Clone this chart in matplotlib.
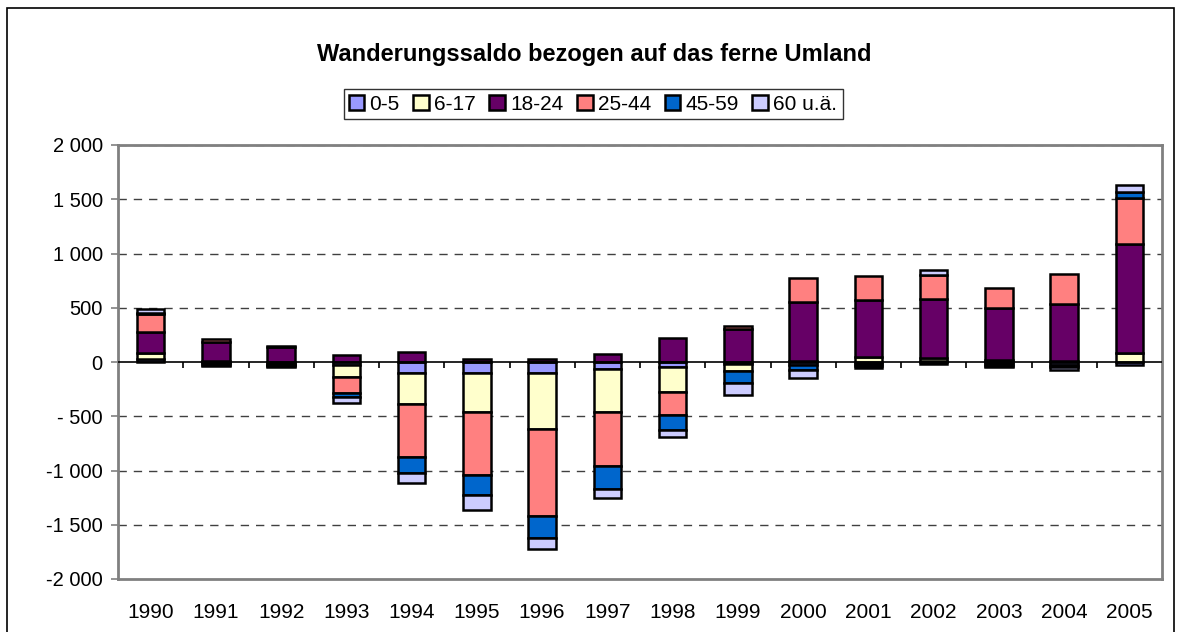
import numpy as np
import matplotlib
matplotlib.use("Agg")
from matplotlib import pyplot as plt
from matplotlib.patches import Rectangle

plt.rcParams['font.family'] = ['Liberation Sans', 'DejaVu Sans']

# data
years = ['1990', '1991', '1992', '1993', '1994', '1995', '1996', '1997',
         '1998', '1999', '2000', '2001', '2002', '2003', '2004', '2005']
groups = ['0-5', '6-17', '18-24', '25-44', '45-59', '60 u.ä.']
colors = ['#9999FF', '#FFFFCC', '#660066', '#FF8080', '#0066CC', '#CCCCFF']

age_0_5 = [25, -10, -15, -25, -105, -105, -105, -60, -45, -15, -30, -15, 10, -15, -25, -25]
age_6_17 = [55, 10, -10, -110, -285, -355, -510, -400, -230, -70, 5, 50, 25, 15, 10, 80]
age_18_24 = [195, 170, 140, 65, 95, 30, 25, 75, 225, 305, 550, 520, 545, 485, 525, 1010]
age_25_44 = [165, 30, 5, -150, -485, -580, -800, -500, -210, 30, 215, 225, 225, 180, 275, 420]
age_45_59 = [15, -15, -10, -35, -145, -190, -210, -215, -140, -110, -40, -20, -20, -20, -25, 55]
age_60 = [30, -15, -10, -55, -95, -130, -95, -75, -70, -105, -75, -20, 45, -15, -25, 65]
series = [age_0_5, age_6_17, age_18_24, age_25_44, age_45_59, age_60]

yticks = [-2000, -1500, -1000, -500, 0, 500, 1000, 1500, 2000]
ylabels = ['-2 000', '-1 500', '-1 000', '- 500', '0', '500', '1 000', '1 500', '2 000']

fig = plt.figure(figsize=(11.81, 6.32), dpi=100)
ax = fig.add_axes([118/1181, 1 - 579/632, (1162-118)/1181, (579-145)/632])

x = np.arange(len(years))
pos_bottom = np.zeros(len(years))
neg_bottom = np.zeros(len(years))
for vals, name, c in zip(series, groups, colors):
    v = np.array(vals, dtype=float)
    bottom = np.where(v >= 0, pos_bottom, neg_bottom)
    ax.bar(x, v, 0.42, bottom=bottom, color=c, edgecolor='black', linewidth=1.8,
           label=name, zorder=3)
    pos_bottom += np.where(v >= 0, v, 0)
    neg_bottom += np.where(v < 0, v, 0)

ax.set_xlim(-0.5, len(years) - 0.5)
ax.set_ylim(-2000, 2000)
ax.set_yticks(yticks)
ax.set_yticklabels(ylabels)
ax.set_xticks(x)
ax.set_xticklabels(years)
ax.tick_params(axis='x', length=0, pad=17, labelsize=15)
ax.tick_params(axis='y', length=5, color='#808080', width=1.2, labelsize=14.5, pad=6)

for yv in yticks[1:]:
    if yv != 0:
        ax.axhline(yv, color='#404040', lw=1, ls=(0, (6, 5)), zorder=1)
ax.axhline(0, color='black', lw=1.2, zorder=4)
ax.vlines(x[:-1] + 0.5, -55, 0, color='black', lw=1.2, zorder=4)

for s in ax.spines.values():
    s.set_color('#808080')
    s.set_linewidth(2)

fig.text(594/1181, 1 - 55/632, 'Wanderungssaldo bezogen auf das ferne Umland',
         fontsize=17, fontweight='bold', ha='center', va='center')

leg = fig.legend(loc='center', bbox_to_anchor=(593/1181, 1 - 104/632), ncol=6,
                 fontsize=15, frameon=True, fancybox=False, edgecolor='black',
                 handlelength=0.75, handleheight=0.75, handletextpad=0.25,
                 columnspacing=0.65, borderpad=0.25, borderaxespad=0)
leg.get_frame().set_linewidth(1)

fig.patches.append(Rectangle((7/1181, -0.05), 1167/1181, 1 - 8/632 + 0.05,
                             transform=fig.transFigure, fill=False,
                             edgecolor='black', lw=1.2))

fig.savefig('out.png', dpi=100)
